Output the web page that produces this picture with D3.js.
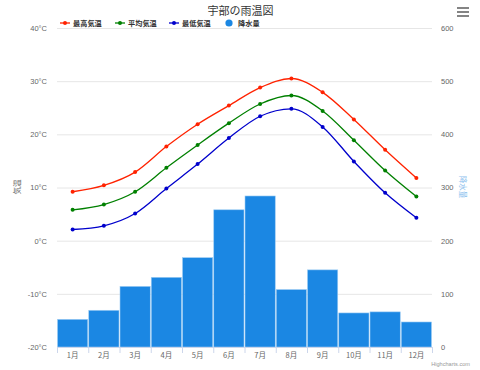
<!DOCTYPE html>
<html><head><meta charset="utf-8">
<script src="https://cdn.jsdelivr.net/npm/d3@7"></script>
<style>body{margin:0;background:#fff}svg{display:block;font-family:"Noto Sans CJK JP","Noto Sans",sans-serif}</style>
</head><body><svg id="c" width="480" height="370"></svg>
<script>
const months = ["1月","2月","3月","4月","5月","6月","7月","8月","9月","10月","11月","12月"];
const tempMax = [9.2,10.4,12.9,17.7,21.9,25.4,28.8,30.5,27.9,22.8,17.1,11.8];
const tempAvg = [5.8,6.8,9.2,13.7,18.0,22.1,25.7,27.3,24.4,18.9,13.2,8.3];
const tempMin = [2.1,2.8,5.1,9.8,14.4,19.3,23.4,24.8,21.4,14.9,9.0,4.3];
const precip = [53,70,115,132,169,259,285,109,146,65,67,48];
const tempTicks = [-20,-10,0,10,20,30,40];
const precipTicks = [0,100,200,300,400,500,600];
const seriesNames = ["最高気温","平均気温","最低気温","降水量"];
const seriesColors = ["#ff2200","#008000","#0000cc","#1b87e3"];

const svg = d3.select("#c");
const L = 57, R = 432, T = 28, B = 347;
const x = d3.scaleBand().domain(months).range([L, R]).padding(0);
const yT = d3.scaleLinear().domain([-20, 40]).range([B, T]);
const yP = d3.scaleLinear().domain([0, 600]).range([B, T]);

// grid
svg.append("g").selectAll("line").data(tempTicks.slice(1)).join("line")
  .attr("x1", L).attr("x2", R).attr("y1", d => yT(d) + 0.5).attr("y2", d => yT(d) + 0.5)
  .attr("stroke", "#e6e6e6").attr("stroke-width", 1);

// bars
svg.append("g").selectAll("rect").data(precip).join("rect")
  .attr("x", (d, i) => x(months[i]) + 0.5)
  .attr("width", x.bandwidth() - 1)
  .attr("y", d => yP(d) + 0.5)
  .attr("height", d => B - yP(d) - 0.5)
  .attr("fill", seriesColors[3]).attr("stroke", "#9fcdf3").attr("stroke-width", 0.6);

// x axis
const xa = svg.append("g").attr("transform", `translate(0,${B})`)
  .call(d3.axisBottom(x).tickSize(0).tickPadding(6));
xa.select(".domain").attr("stroke", "#ccd6eb");
xa.selectAll("text").attr("fill", "#666").attr("font-size", 7.5).attr("font-family", "\"Noto Sans CJK JP\",sans-serif");
svg.append("g").selectAll("line").data(d3.range(months.length + 1)).join("line")
  .attr("x1", i => L + i * x.bandwidth() + 0.5).attr("x2", i => L + i * x.bandwidth() + 0.5)
  .attr("y1", B).attr("y2", B + 6).attr("stroke", "#ccd6eb");

// left axis
const ya = svg.append("g").attr("transform", `translate(${L},0)`)
  .call(d3.axisLeft(yT).tickValues(tempTicks).tickSize(0).tickPadding(10).tickFormat(d => d + "°C"));
ya.select(".domain").remove();
ya.selectAll("text").attr("fill", "#666").attr("font-size", 7.5).attr("font-family", "\"Liberation Sans\",Arial,sans-serif");
// right axis
const ypa = svg.append("g").attr("transform", `translate(${R},0)`)
  .call(d3.axisRight(yP).tickValues(precipTicks).tickSize(0).tickPadding(9));
ypa.select(".domain").remove();
ypa.selectAll("text").attr("fill", "#666").attr("font-size", 7.5).attr("font-family", "\"Liberation Sans\",Arial,sans-serif");

// axis titles
svg.append("text").attr("transform", "translate(20,187) rotate(-90)").attr("text-anchor", "middle")
  .attr("font-size", 7.5).attr("fill", "#666").text("気温");
svg.append("text").attr("transform", "translate(460,187) rotate(90)").attr("text-anchor", "middle")
  .attr("font-size", 7.5).attr("fill", "#8ec1ee").text("降水量");

// lines
const line = d3.line().x((d, i) => x(months[i]) + x.bandwidth() / 2).y(d => yT(d)).curve(d3.curveMonotoneX);
[tempMax, tempAvg, tempMin].forEach((s, k) => {
  svg.append("path").datum(s).attr("d", line).attr("fill", "none")
    .attr("stroke", seriesColors[k]).attr("stroke-width", 1.3);
  svg.append("g").selectAll("circle").data(s).join("circle")
    .attr("cx", (d, i) => x(months[i]) + x.bandwidth() / 2).attr("cy", d => yT(d))
    .attr("r", 2).attr("fill", seriesColors[k]);
});

// title
svg.append("text").attr("x", 240.5).attr("y", 14.5).attr("text-anchor", "middle")
  .attr("font-size", 11).attr("fill", "#333").text("宇部の雨温図");

// legend
const legX = [60, 115, 169, 224];
seriesNames.forEach((n, k) => {
  const g = svg.append("g").attr("transform", `translate(${legX[k]},23)`);
  if (k < 3) {
    g.append("line").attr("x1", 0).attr("x2", 10).attr("y1", 0).attr("y2", 0)
      .attr("stroke", seriesColors[k]).attr("stroke-width", 1.3);
    g.append("circle").attr("cx", 5).attr("cy", 0).attr("r", 2).attr("fill", seriesColors[k]);
    g.append("text").attr("x", 13).attr("y", 2.6).attr("font-size", 7.2).attr("font-weight", "bold")
      .attr("fill", "#333").text(n);
  } else {
    g.append("circle").attr("cx", 5).attr("cy", 0).attr("r", 3.6).attr("fill", seriesColors[k]);
    g.append("text").attr("x", 14).attr("y", 2.6).attr("font-size", 7.2).attr("font-weight", "bold")
      .attr("fill", "#333").text(n);
  }
});

// menu icon
svg.append("g").selectAll("line").data([8, 12, 16]).join("line")
  .attr("x1", 457).attr("x2", 469).attr("y1", d => d).attr("y2", d => d)
  .attr("stroke", "#666").attr("stroke-width", 1.6);

// credit
svg.append("text").attr("x", 470).attr("y", 366).attr("text-anchor", "end")
  .attr("font-size", 5.6).attr("fill", "#999").attr("font-family", "\"Liberation Sans\",Arial,sans-serif").text("Highcharts.com");
</script></body></html>
